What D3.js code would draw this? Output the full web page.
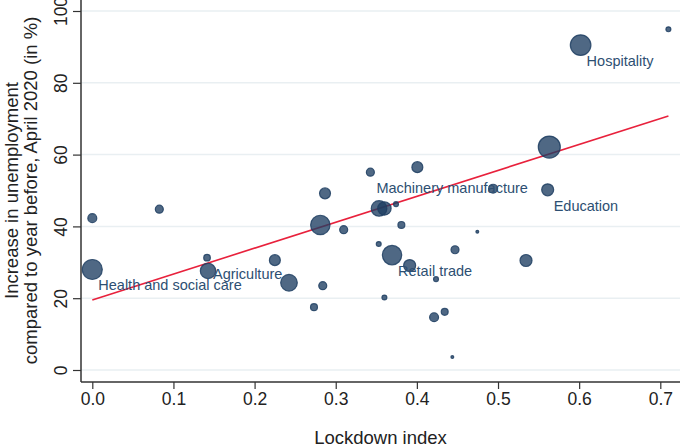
<!DOCTYPE html>
<html>
<head>
<meta charset="utf-8">
<script src="https://cdn.jsdelivr.net/npm/d3@7"></script>
<style>
  body { margin: 0; background: #fff; }
  svg { display: block; font-family: "Liberation Sans", Arial, Helvetica, sans-serif; }
</style>
</head>
<body>
<svg id="chart"></svg>
<script>
// industries: lockdown index vs increase in unemployment, marker size = weight
var lockdown = [0.0, 0.0826, 0.0, 0.1414, 0.1426, 0.225, 0.2424, 0.2732, 0.281, 0.284,
    0.2868, 0.3098, 0.3427, 0.353, 0.3534, 0.36, 0.36, 0.3694, 0.3743, 0.3809,
    0.3911, 0.4006, 0.4212, 0.4236, 0.4343, 0.4437, 0.447, 0.4745, 0.4939, 0.5345,
    0.5612, 0.5632, 0.6018, 0.71]
var unemployment = [42.3, 44.8, 28.0, 31.3, 27.6, 30.6, 24.3, 17.5, 40.4, 23.5,
    49.2, 39.1, 55.1, 35.1, 45.0, 45.0, 20.2, 32.0, 46.2, 40.4,
    29.1, 56.5, 14.7, 25.3, 16.2, 3.6, 33.5, 38.5, 50.5, 30.5,
    50.2, 62.1, 90.5, 94.9]
var weight = [20, 16, 100, 11, 59, 30, 69, 12, 94, 16,
    30, 16, 16, 6, 61, 45, 6, 94, 6, 12,
    36, 30, 20, 6, 12, 2, 16, 2, 20, 36,
    36, 121, 106, 6]
var labels = ["", "", "Health and social care", "Agriculture", "", "", "", "", "", "",
    "", "", "Machinery manufacture", "", "", "", "", "Retail trade", "", "",
    "", "", "", "", "", "", "", "", "", "",
    "Education", "", "Hospitality", ""]

var xTicks = [0, 0.1, 0.2, 0.3, 0.4, 0.5, 0.6, 0.7]
var yTicks = [0, 20, 40, 60, 80, 100]

// linear fit
var fitIntercept = 19.5, fitSlope = 72.2
var fitRange = [0, 0.71]

var width = 680, height = 445
var svg = d3.select("#chart")
    .attr("width", width)
    .attr("height", height)

var x = d3.scaleLinear().domain([0, 0.7]).range([92.3, 660.3])
var y = d3.scaleLinear().domain([0, 100]).range([370, 11])
var r = d3.scaleSqrt().domain([0, 121]).range([0, 11])

var left = 81, bottom = 382

var points = lockdown.map(function (d, i) {
    return {x: d, y: unemployment[i], w: weight[i], label: labels[i]}
})

// grid
svg.append("g")
    .selectAll("line")
    .data(yTicks)
    .enter()
    .append("line")
        .attr("x1", left)
        .attr("x2", width)
        .attr("y1", function (d) { return y(d) })
        .attr("y2", function (d) { return y(d) })
        .attr("stroke", "#e9eff2")
        .attr("stroke-width", 1.5)

// axes
var xAxis = svg.append("g")
    .attr("transform", "translate(0," + bottom + ")")
    .call(d3.axisBottom(x).tickValues(xTicks).tickFormat(d3.format(".1f")).tickSizeInner(7).tickSizeOuter(0).tickPadding(4))
xAxis.select(".domain").remove()
xAxis.append("line")
    .attr("x1", left).attr("x2", width)
    .attr("stroke", "#333").attr("stroke-width", 1.5)
xAxis.selectAll(".tick line").attr("stroke", "#333").attr("stroke-width", 1.2)
xAxis.selectAll(".tick text")
    .attr("font-size", "17.5px")
    .attr("fill", "#222")
    .attr("font-family", "Liberation Sans, Arial, sans-serif")

var yAxis = svg.append("g")
    .attr("transform", "translate(" + left + ",0)")
    .call(d3.axisLeft(y).tickValues(yTicks).tickSizeInner(8).tickSizeOuter(0))
yAxis.select(".domain").remove()
yAxis.append("line")
    .attr("y1", 0).attr("y2", bottom)
    .attr("stroke", "#333").attr("stroke-width", 1.5)
yAxis.selectAll(".tick line").attr("stroke", "#333").attr("stroke-width", 1.2)
yAxis.selectAll(".tick text")
    .attr("font-size", "17.5px")
    .attr("fill", "#222")
    .attr("font-family", "Liberation Sans, Arial, sans-serif")
    .attr("text-anchor", "middle")
    .attr("dy", null)
    .attr("x", null)
    .attr("transform", "translate(-14,0) rotate(-90)")
    .attr("dominant-baseline", "auto")
    .attr("y", 0)

// axis titles
svg.append("text")
    .attr("x", (left + width) / 2)
    .attr("y", 444)
    .attr("text-anchor", "middle")
    .attr("font-size", "18.5px")
    .attr("fill", "#222")
    .text("Lockdown index")

var yTitle = svg.append("text")
    .attr("transform", "translate(0," + (y(0) + y(100)) / 2 + ") rotate(-90)")
    .attr("text-anchor", "middle")
    .attr("font-size", "18.5px")
    .attr("fill", "#222")
yTitle.append("tspan").attr("x", 0).attr("y", 18).text("Increase in unemployment")
yTitle.append("tspan").attr("x", 0).attr("y", 37).text("compared to year before, April 2020 (in %)")

// fit line
svg.append("line")
    .attr("x1", x(fitRange[0]))
    .attr("y1", y(fitIntercept + fitSlope * fitRange[0]))
    .attr("x2", x(fitRange[1]))
    .attr("y2", y(fitIntercept + fitSlope * fitRange[1]))
    .attr("stroke", "#e8213c")
    .attr("stroke-width", 1.6)

// markers
svg.append("g")
    .selectAll("circle")
    .data(points)
    .enter()
    .append("circle")
        .attr("cx", function (d) { return x(d.x) })
        .attr("cy", function (d) { return y(d.y) })
        .attr("r", function (d) { return r(d.w) })
        .attr("fill", "rgb(30,62,98)")
        .attr("fill-opacity", 0.78)
        .attr("stroke", "rgb(30,62,98)")
        .attr("stroke-opacity", 0.85)
        .attr("stroke-width", 1.2)

// labels
svg.append("g")
    .selectAll("text")
    .data(points.filter(function (d) { return d.label != "" }))
    .enter()
    .append("text")
        .attr("x", function (d) { return x(d.x) + 6 })
        .attr("y", function (d) { return y(d.y) + 21 })
        .attr("font-size", "14.5px")
        .attr("fill", "#2d4f72")
        .text(function (d) { return d.label })
</script>
</body>
</html>
